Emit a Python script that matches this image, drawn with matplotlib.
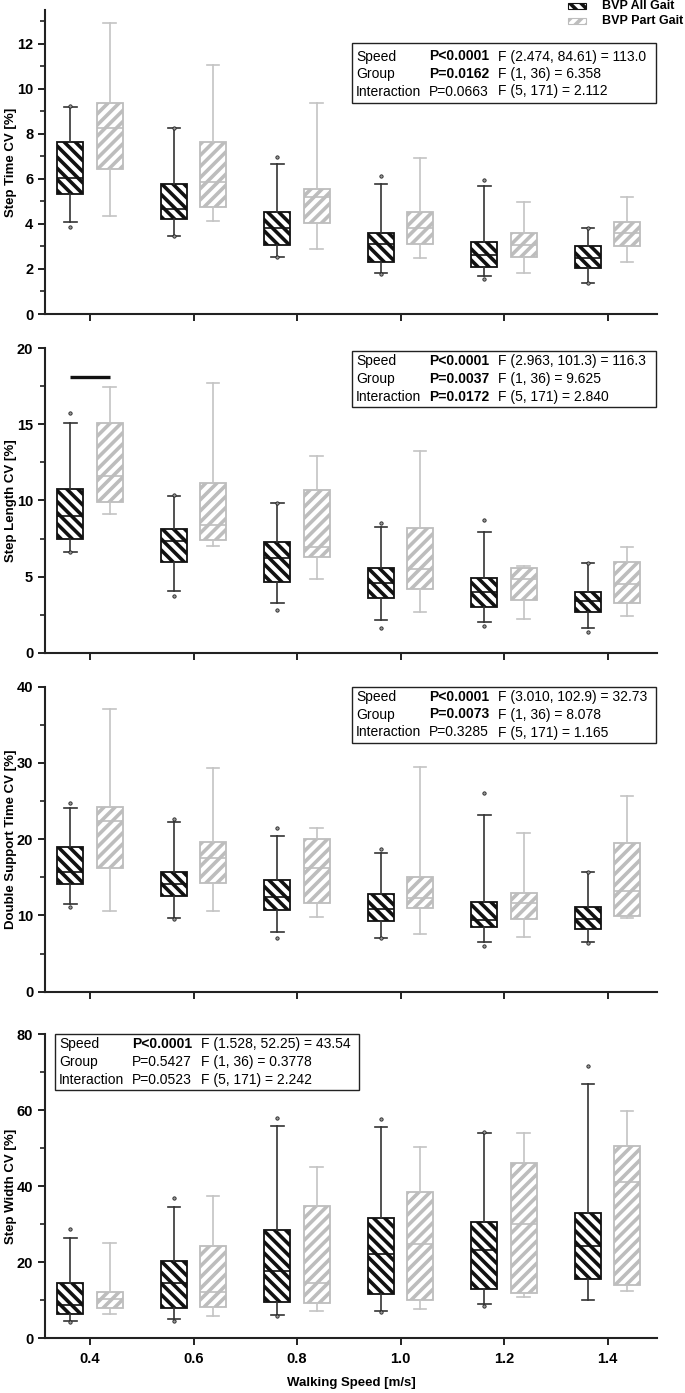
import numpy as np
import matplotlib.pyplot as plt
from matplotlib.patches import Rectangle
from matplotlib.ticker import MultipleLocator

plt.rcParams['font.family'] = ['Liberation Sans', 'DejaVu Sans']
plt.rcParams['hatch.linewidth'] = 2.6

speeds = ['0.4', '0.6', '0.8', '1.0', '1.2', '1.4']

# each row: whisker low, Q1, median, Q3, whisker high (one row per speed)
step_time_all = [[4.10, 5.33, 6.03, 7.66, 9.19], [3.47, 4.21, 4.65, 5.76, 8.25],
                 [2.55, 3.07, 3.80, 4.52, 6.68], [1.81, 2.30, 3.10, 3.61, 5.78],
                 [1.69, 2.07, 2.60, 3.19, 5.70], [1.39, 2.03, 2.50, 3.04, 3.81]]
step_time_part = [[4.33, 6.43, 8.25, 9.39, 12.92], [4.15, 4.77, 5.84, 7.66, 11.04],
                  [2.87, 4.06, 5.21, 5.54, 9.39], [2.50, 3.10, 3.84, 4.52, 6.92],
                  [1.81, 2.55, 3.05, 3.59, 4.98], [2.30, 3.02, 3.59, 4.10, 5.21]]
step_time_all_out = [[9.22, 3.88], [8.27, 3.45], [6.99, 2.52], [6.15, 1.78], [5.96, 1.54], [3.83, 1.37]]

step_len_all = [[6.64, 7.47, 8.98, 10.76, 15.07], [4.05, 5.94, 7.36, 8.13, 10.32],
                [3.25, 4.63, 6.20, 7.25, 9.82], [2.15, 3.57, 4.60, 5.59, 8.24],
                [2.00, 3.02, 4.01, 4.89, 7.93], [1.64, 2.69, 3.40, 3.97, 5.87]]
step_len_part = [[9.11, 9.88, 11.61, 15.11, 17.44], [7.03, 7.40, 8.39, 11.17, 17.74],
                 [4.84, 6.31, 6.93, 10.67, 12.94], [2.65, 4.19, 5.50, 8.21, 13.27],
                 [2.21, 3.46, 4.82, 5.55, 5.72], [2.43, 3.29, 4.49, 5.94, 6.93]]
step_len_all_out = [[15.73, 6.60], [10.35, 3.75], [9.85, 2.81], [8.50, 1.64], [8.72, 1.75], [5.90, 1.38]]

dst_all = [[11.46, 14.08, 15.74, 19.02, 24.13], [9.63, 12.55, 14.08, 15.66, 22.21],
           [7.87, 10.71, 12.46, 14.65, 20.46], [7.08, 9.31, 10.81, 12.81, 18.23],
           [6.48, 8.45, 9.40, 11.80, 23.17], [6.48, 8.18, 9.60, 11.15, 15.70]]
dst_part = [[10.62, 16.18, 22.39, 24.18, 37.08], [10.62, 14.22, 17.49, 19.67, 29.30],
            [9.84, 11.59, 16.26, 20.03, 21.43], [7.57, 10.94, 12.25, 15.00, 29.51],
            [7.21, 9.49, 11.59, 12.90, 20.77], [9.71, 9.97, 13.25, 19.46, 25.70]]
dst_all_out = [[24.71, 11.15], [22.65, 9.50], [21.43, 7.08], [18.72, 7.05], [26.02, 5.99], [15.75, 6.45]]

width_all = [[4.64, 6.39, 8.77, 14.63, 26.47], [5.00, 7.89, 14.63, 20.43, 34.47],
             [6.13, 9.63, 17.79, 28.50, 55.95], [7.18, 11.58, 22.10, 31.58, 55.53],
             [8.95, 12.97, 23.24, 30.68, 53.95], [10.08, 15.61, 24.37, 32.89, 66.93]]
width_part = [[6.39, 7.89, 10.26, 12.10, 25.16], [5.87, 8.32, 12.26, 24.29, 37.53],
              [7.18, 9.21, 14.63, 34.82, 45.00], [7.71, 10.08, 24.74, 38.58, 50.26],
              [10.79, 12.00, 30.08, 46.21, 53.95], [12.45, 14.03, 41.05, 50.68, 59.90]]
width_all_out = [[28.76, 4.40], [37.00, 4.60], [57.89, 6.00], [57.63, 6.80], [54.20, 8.60], [71.74]]

# stats box rows: (label, p text, p bold?, F text)
step_time_stats = [('Speed', 'P<0.0001', True, 'F (2.474, 84.61) = 113.0'),
                   ('Group', 'P=0.0162', True, 'F (1, 36) = 6.358'),
                   ('Interaction', 'P=0.0663', False, 'F (5, 171) = 2.112')]
step_len_stats = [('Speed', 'P<0.0001', True, 'F (2.963, 101.3) = 116.3'),
                  ('Group', 'P=0.0037', True, 'F (1, 36) = 9.625'),
                  ('Interaction', 'P=0.0172', True, 'F (5, 171) = 2.840')]
dst_stats = [('Speed', 'P<0.0001', True, 'F (3.010, 102.9) = 32.73'),
             ('Group', 'P=0.0073', True, 'F (1, 36) = 8.078'),
             ('Interaction', 'P=0.3285', False, 'F (5, 171) = 1.165')]
width_stats = [('Speed', 'P<0.0001', True, 'F (1.528, 52.25) = 43.54'),
               ('Group', 'P=0.5427', False, 'F (1, 36) = 0.3778'),
               ('Interaction', 'P=0.0523', False, 'F (5, 171) = 2.242')]

W, H = 685, 1393
fig = plt.figure(figsize=(W / 100, H / 100), dpi=100)

BLACK = '#111111'
GREY = '#bdbdbd'
GREY_W = '#c4c4c4'
HATCH_ALL = '\\\\\\'
HATCH_PART = '///'


def fx(x):
    return x / W


def fy(y):
    return 1 - y / H


def make_stats(rows, fl=None):
    out = []
    for i, r in enumerate(rows):
        out.append(dict(whislo=r[0], q1=r[1], med=r[2], q3=r[3], whishi=r[4],
                        fliers=np.array(fl[i]) if fl else np.array([])))
    return out


def draw_group(ax, rows, fl, offset, color, wcolor, hatch):
    pos = np.arange(len(rows)) + offset
    bp = ax.bxp(make_stats(rows, fl), positions=pos, widths=0.25, capwidths=0.12,
                patch_artist=True, manage_ticks=False,
                boxprops=dict(facecolor='white', edgecolor=color, linewidth=1.3),
                medianprops=dict(color=color, linewidth=1.2),
                whiskerprops=dict(color=wcolor, linewidth=1.2),
                capprops=dict(color=wcolor, linewidth=1.2),
                flierprops=dict(marker='o', markersize=2.4, markerfacecolor='#999999',
                                markeredgecolor='#222222', markeredgewidth=0.6))
    for b in bp['boxes']:
        b.set_hatch(hatch)
    return bp


def stats_box(rows, left, top, right, bottom, ys):
    fig.add_artist(Rectangle((fx(left), fy(bottom)), fx(right - left), (bottom - top) / H,
                             transform=fig.transFigure, fill=False, edgecolor='#222222',
                             linewidth=1.0))
    cols = [left + 4, left + 77, left + 146]
    for (lab, p, bold, f), y in zip(rows, ys):
        fig.text(fx(cols[0]), fy(y), lab, fontsize=10, va='center', ha='left')
        fig.text(fx(cols[1]), fy(y), p, fontsize=10, va='center', ha='left',
                 fontweight='bold' if bold else 'normal')
        fig.text(fx(cols[2]), fy(y), f, fontsize=10, va='center', ha='left')


panels = [
    (step_time_all, step_time_part, step_time_all_out, 'Step Time CV [%]', 13.5, 2, 1, 314, 304),
    (step_len_all, step_len_part, step_len_all_out, 'Step Length CV [%]', 20, 5, 2.5, 652.7, 304.4),
    (dst_all, dst_part, dst_all_out, 'Double Support Time CV [%]', 40, 10, 5, 991.7, 305),
    (width_all, width_part, width_all_out, 'Step Width CV [%]', 80, 20, 10, 1338.3, 304),
]

axes = []
for k, (a, p, fl, ylab, ymax, major, minor, y0, hpx) in enumerate(panels):
    ax = fig.add_axes([fx(45), fy(y0), fx(612), hpx / H])
    draw_group(ax, a, fl, -0.19, BLACK, '#333333', HATCH_ALL)
    draw_group(ax, p, None, 0.19, GREY, GREY_W, HATCH_PART)
    ax.set_xlim(-0.435, 5.478)
    ax.set_ylim(0, ymax)
    ax.set_xticks(np.arange(len(speeds)))
    ax.yaxis.set_major_locator(MultipleLocator(major))
    ax.yaxis.set_minor_locator(MultipleLocator(minor))
    for s in ['top', 'right']:
        ax.spines[s].set_visible(False)
    for s in ['left', 'bottom']:
        ax.spines[s].set_linewidth(1.5)
        ax.spines[s].set_color('#222222')
    ax.tick_params(which='major', length=5, width=1.4, color='#222222', labelsize=10.5)
    ax.tick_params(which='minor', length=3.5, width=1.2, color='#222222')
    for t in ax.get_yticklabels():
        t.set_fontweight('bold')
    if k < 3:
        ax.set_xticklabels([])
    else:
        ax.set_xticklabels(speeds, fontweight='bold', fontsize=10.5)
        ax.tick_params(axis='x', pad=5)
        ax.set_xlabel('Walking Speed [m/s]', fontweight='bold', fontsize=9.5, labelpad=8)
    ax.set_ylabel(ylab, fontweight='bold', fontsize=9.5)
    ax.yaxis.set_label_coords(-0.046, 0.5)
    ax.set_facecolor('none')
    axes.append(ax)

# significance bar at 0.4 m/s, step length
axes[1].plot([-0.19, 0.19], [18.1, 18.1], color=BLACK, linewidth=2.4, solid_capstyle='butt')

stats_box(step_time_stats, 352, 42.7, 656, 103.3, [56.5, 74, 91.5])
stats_box(step_len_stats, 352, 350.7, 656, 407.3, [361, 379, 397])
stats_box(dst_stats, 352, 687.3, 656, 742.7, [697, 714.5, 732.5])
stats_box(width_stats, 55, 1034.3, 359, 1090, [1044, 1062.3, 1080])

# legend
for (lab, ec, h), y in zip([('BVP All Gait', BLACK, HATCH_ALL), ('BVP Part Gait', GREY, HATCH_PART)], [6, 21]):
    fig.add_artist(Rectangle((fx(568), fy(y + 3)), fx(18), 6 / H, transform=fig.transFigure,
                             facecolor='white', edgecolor=ec, hatch=h, linewidth=0.8))
    fig.text(fx(602), fy(y), lab, fontsize=9, fontweight='bold', va='center', ha='left')

fig.savefig('out.png', dpi=100)
